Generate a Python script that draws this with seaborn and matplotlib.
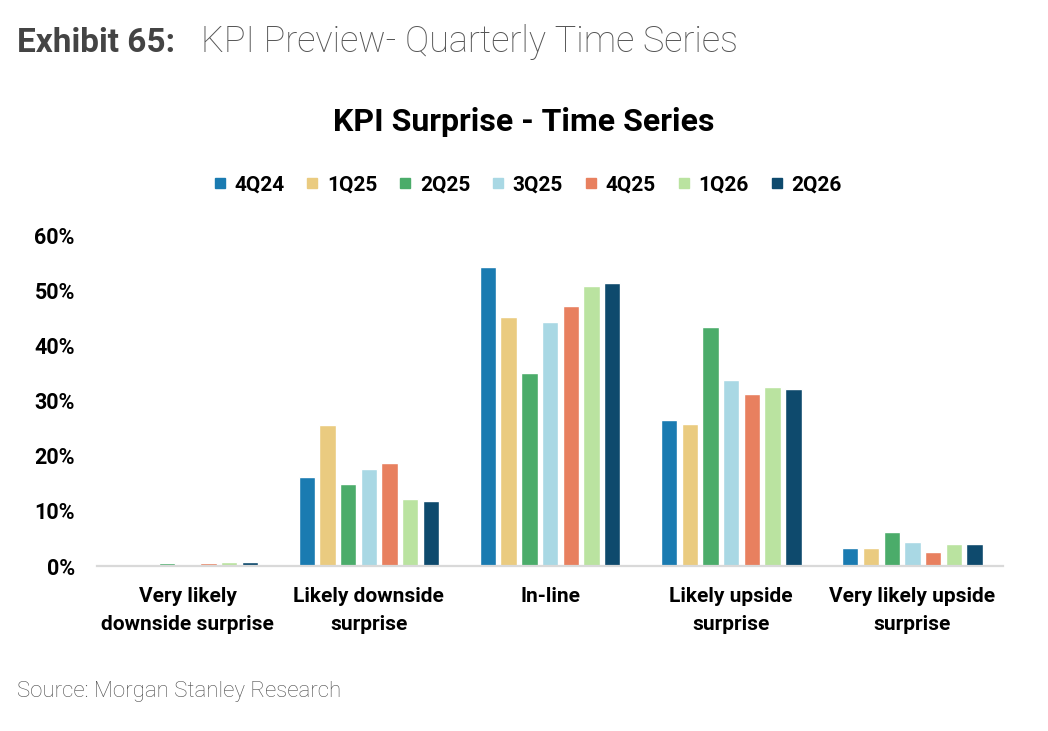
import matplotlib
matplotlib.use("Agg")
import matplotlib.pyplot as plt
from matplotlib.lines import Line2D
import seaborn as sns
import pandas as pd

# data (percent of KPIs)
categories = ["Very likely\ndownside surprise", "Likely downside\nsurprise", "In-line",
              "Likely upside\nsurprise", "Very likely upside\nsurprise"]
quarters = ["4Q24", "1Q25", "2Q25", "3Q25", "4Q25", "1Q26", "2Q26"]
q4_24 = [0.0, 16.2, 54.2, 26.4, 3.3]
q1_25 = [0.0, 25.6, 45.1, 25.8, 3.3]
q2_25 = [0.5, 14.9, 34.9, 43.3, 6.2]
q3_25 = [0.1, 17.5, 44.2, 33.8, 4.3]
q4_25 = [0.5, 18.7, 47.1, 31.1, 2.5]
q1_26 = [0.7, 12.2, 50.7, 32.5, 3.9]
q2_26 = [0.7, 11.8, 51.3, 32.0, 4.0]
colors = ["#1a7bb1", "#eacb80", "#4bac6a", "#a9d8e4", "#e8805f", "#bae3a0", "#0e4a6d"]

series = [q4_24, q1_25, q2_25, q3_25, q4_25, q1_26, q2_26]
rows = []
for q, vals in zip(quarters, series):
    for c, v in zip(categories, vals):
        rows.append({"category": c, "quarter": q, "value": v})
df = pd.DataFrame(rows)

sns.set_style("white")
plt.rcParams["font.family"] = ["Roboto", "DejaVu Sans"]
plt.rcParams["text.color"] = "black"
plt.rcParams["xtick.color"] = "black"
plt.rcParams["ytick.color"] = "black"

fig = plt.figure(figsize=(10.48, 7.31), dpi=100)
ax = fig.add_axes([0.0926, 0.2257, 0.8645, 0.4528])

sns.barplot(data=df, x="category", y="value", hue="quarter", order=categories,
            hue_order=quarters, palette=colors, saturation=1, width=0.8,
            legend=False, ax=ax)

# gaps between bars
for cont in ax.containers:
    for p in cont:
        w = p.get_width()
        p.set_x(p.get_x() + w * 0.105)
        p.set_width(w * 0.79)

ax.set_ylim(0, 60)
ax.set_yticks(range(0, 61, 10))
ax.set_yticklabels([f"{t}%" for t in range(0, 61, 10)], fontsize=15.5, fontweight="bold")
ax.tick_params(axis="y", length=0, pad=16)
ax.tick_params(axis="x", length=0, pad=15)
for lab in ax.get_xticklabels():
    lab.set_fontsize(15)
    lab.set_fontweight("bold")
    lab.set_linespacing(1.6)
ax.set_xlabel("")
ax.set_ylabel("")
for s in ["top", "right", "left"]:
    ax.spines[s].set_visible(False)
ax.spines["bottom"].set_color("#d9d9d9")
ax.spines["bottom"].set_linewidth(1.6)

# square legend markers
handles = [Line2D([], [], marker="s", linestyle="", markersize=7, color=c) for c in colors]
ax.legend(handles, quarters, ncol=7, frameon=False, loc="center",
          bbox_to_anchor=(0.504, 0.747), bbox_transform=fig.transFigure,
          handlelength=0.5, handletextpad=0.45,
          columnspacing=1.1, prop={"size": 15, "weight": "bold"})

fig.text(0.50, 0.833, "KPI Surprise - Time Series", ha="center", va="center",
         fontsize=23, fontweight="bold")

fig.text(0.016, 0.929, "Exhibit 65:", fontsize=24, fontweight="bold",
         color="#444444", va="baseline")
fig.text(0.192, 0.929, "KPI Preview- Quarterly Time Series", fontsize=26,
         fontweight="light", color="#555555", va="baseline")
fig.text(0.016, 0.047, "Source: Morgan Stanley Research", fontsize=16,
         fontweight="light", color="#4d4d4d", va="baseline")

fig.savefig("out.png", dpi=100)
